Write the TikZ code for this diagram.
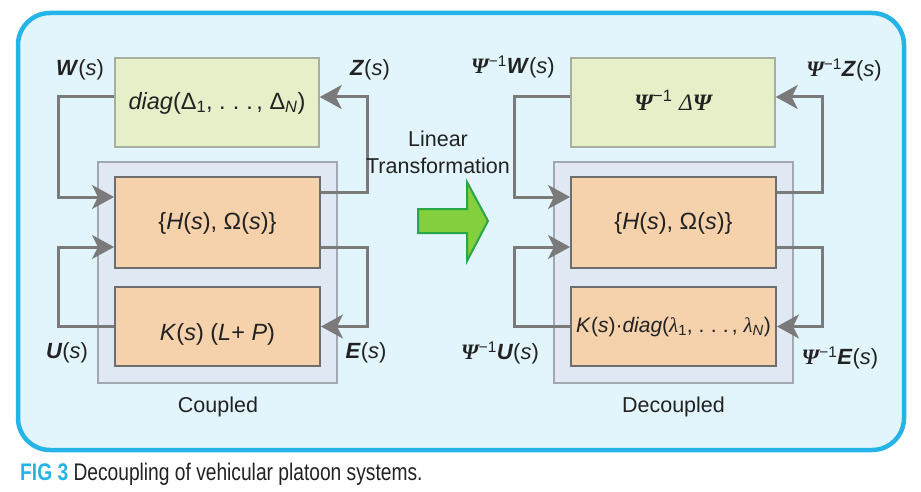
\documentclass[tikz,border=0pt]{standalone}
\usepackage{fontspec}
\setmainfont{Liberation Sans}
\newfontfamily\serifg{Liberation Serif}
\newfontfamily\capfont[FakeStretch=0.8]{Liberation Sans}
\usetikzlibrary{arrows.meta}
\definecolor{outerc}{HTML}{25B4E8}
\definecolor{outerf}{HTML}{E3F5FC}
\definecolor{greenf}{HTML}{E5F0C8}
\definecolor{greend}{HTML}{A8AD9E}
\definecolor{contf}{HTML}{DFE8F3}
\definecolor{contd}{HTML}{A2A8B0}
\definecolor{orangef}{HTML}{F5D1AC}
\definecolor{oranged}{HTML}{6E6E6E}
\definecolor{linec}{HTML}{7A7A7A}
\definecolor{txt}{HTML}{222222}
\definecolor{arrf}{HTML}{84CF3E}
\definecolor{arrd}{HTML}{2AA64A}
\newcommand{\Psib}{{\serifg\bfseries\itshape Ψ}}
\newcommand{\minv}{\textsuperscript{−1}}
\newcommand{\bi}[1]{\textbf{\textit{#1}}}
\newcommand{\sdots}{.\hspace{0.3em}.\hspace{0.3em}.\hspace{0.15em}}
\tikzset{
  greenbox/.style={draw=greend, fill=greenf, line width=1.5pt, inner sep=0pt},
  contbox/.style={draw=contd, fill=contf, line width=1.5pt, inner sep=0pt},
  orangebox/.style={draw=oranged, fill=orangef, line width=2pt, inner sep=0pt},
  conn/.style={draw=linec, line width=3pt, -{Stealth[length=22pt,width=24pt,inset=6pt]}},
  boxtext/.style={text=txt, font=\fontsize{23.5}{27}\selectfont, inner sep=0pt},
  lbl/.style={text=txt, font=\fontsize{22}{26}\selectfont, inner sep=0pt},
  plain/.style={text=txt, font=\fontsize{21.5}{27}\selectfont, inner sep=0pt, align=center}
}
\begin{document}
\begin{tikzpicture}[x=1pt,y=-1pt]
\useasboundingbox (0,0) rectangle (921,492);
\fill[white] (0,0) rectangle (921,492);
\draw[draw=outerc, fill=outerf, line width=4.5pt, rounded corners=32pt] (18,13) rectangle (904,450);

% ---------- left (coupled) ----------
\node[contbox, minimum width=239pt, minimum height=221pt] (cL) at (217.5,272.5) {};
\node[greenbox, minimum width=204pt, minimum height=89pt] (gL) at (217,102.5) {};
\node[orangebox, minimum width=205pt, minimum height=91pt] (hL) at (217.5,222.5) {};
\node[orangebox, minimum width=205pt, minimum height=79pt] (kL) at (217.5,326.5) {};
\node[boxtext] (gLt) at (217,103) {\textit{diag}(Δ\textsubscript{1}, \sdots, Δ\textsubscript{\textit{N}})};
\node[boxtext] (hLt) at (217.5,223) {\{\textit{H}(\textit{s}), Ω(\textit{s})\}};
\node[boxtext] (kLt) at (217.5,334) {\textit{K}(\textit{s}) (\textit{L}+ \textit{P})};

\draw[conn] ([yshift=5.5pt]gL.west) -- ++(-56,0) |- ([yshift=25.5pt]hL.west);
\draw[conn] ([yshift=30.5pt]hL.east) -- ++(46,0) |- ([yshift=5.5pt]gL.east);
\draw[conn] (kL.west) -- ++(-56,0) |- ([yshift=-24.5pt]hL.west);
\draw[conn] ([yshift=-24.5pt]hL.east) -- ++(46,0) |- (kL.east);

\node[lbl] (wL) at (80,70) {\bi{W}(\textit{s})};
\node[lbl] (zL) at (370,70) {\bi{Z}(\textit{s})};
\node[lbl] (uL) at (67,353) {\bi{U}(\textit{s})};
\node[lbl] (eL) at (366,353) {\bi{E}(\textit{s})};
\node[plain] (coupled) at (218,407) {Coupled};

% ---------- middle ----------
\node[plain] (lin) at (438,152) {Linear\\Transformation};
\draw[draw=arrd, fill=arrf, line width=2pt, line join=miter]
  (418,209) -- (467,209) -- (467,182) -- (488,221) -- (467,261) -- (467,233) -- (418,233) -- cycle;

% ---------- right (decoupled) ----------
\node[contbox, minimum width=239pt, minimum height=221pt] (cR) at (673.5,272.5) {};
\node[greenbox, minimum width=204pt, minimum height=89pt] (gR) at (673,102.5) {};
\node[orangebox, minimum width=205pt, minimum height=91pt] (hR) at (673.5,222.5) {};
\node[orangebox, minimum width=205pt, minimum height=79pt] (kR) at (673.5,326.5) {};
\node[boxtext] (gRt) at (673,100) {\Psib\minv\ {\serifg\itshape Δ}\Psib};
\node[boxtext] (hRt) at (673.5,223) {\{\textit{H}(\textit{s}), Ω(\textit{s})\}};
\node[boxtext, font=\fontsize{21}{25}\selectfont] (kRt) at (673.5,327) {\textit{K}(\textit{s})·\textit{diag}({\serifg\itshape λ}\textsubscript{1}, \sdots, {\serifg\itshape λ}\textsubscript{\textit{N}})};

\draw[conn] ([yshift=5.5pt]gR.west) -- ++(-56,0) |- ([yshift=25.5pt]hR.west);
\draw[conn] ([yshift=30.5pt]hR.east) -- ++(45,0) |- ([yshift=5.5pt]gR.east);
\draw[conn] (kR.west) -- ++(-56,0) |- ([yshift=-24.5pt]hR.west);
\draw[conn] ([yshift=-24.5pt]hR.east) -- ++(45,0) |- (kR.east);

\node[lbl] (wR) at (513,67) {\Psib\minv\bi{W}(\textit{s})};
\node[lbl] (zR) at (844,70) {\Psib\minv\bi{Z}(\textit{s})};
\node[lbl] (uR) at (500,353) {\Psib\minv\bi{U}(\textit{s})};
\node[lbl] (eR) at (840,358) {\Psib\minv\bi{E}(\textit{s})};
\node[plain] (decoupled) at (673.5,407) {Decoupled};

% ---------- caption ----------
\node[anchor=base west, inner sep=0pt, text=txt, font=\capfont\fontsize{24}{28}\selectfont] (cap) at (20,480)
  {\textcolor{outerc}{\textbf{FIG 3}} Decoupling of vehicular platoon systems.};
\end{tikzpicture}
\end{document}
